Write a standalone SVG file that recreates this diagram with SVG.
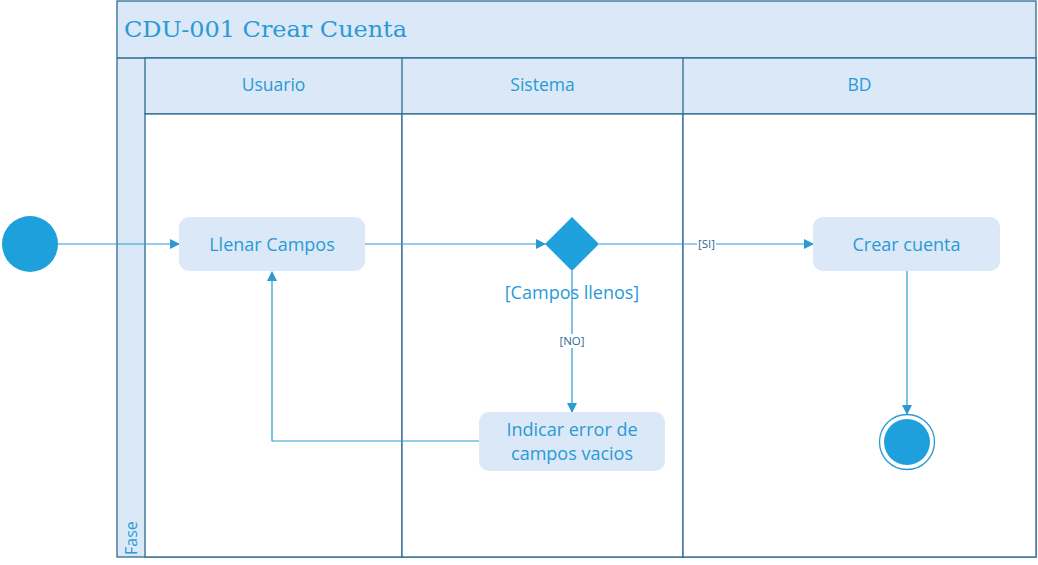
<svg xmlns="http://www.w3.org/2000/svg" width="1038" height="565" viewBox="0 0 1038 565">
<style>
.frame{fill:#dae8f7;stroke:#2e6b93;stroke-width:1.3}
.lane{fill:#ffffff;stroke:#2e6b93;stroke-width:1.3}
.act{fill:#dae8f7;stroke:none}
.t{font-family:"Open Sans","Noto Sans",sans-serif;fill:#2a9ad6}
.conn{fill:none;stroke:#2a9ad6;stroke-width:1.2}
.lbl{font-family:"Open Sans","Noto Sans",sans-serif;font-size:11.5px;fill:#2e6b93}
</style>
<defs>
<marker id="arr" markerWidth="10" markerHeight="10" refX="9" refY="5" orient="auto" markerUnits="userSpaceOnUse">
<path d="M0,0 L10,5 L0,10 z" fill="#2a9ad6"/>
</marker>
</defs>
<g id="pool">
<rect class="frame" x="117" y="1" width="919" height="556"/>
<line x1="117" y1="58" x2="1036" y2="58" stroke="#2e6b93" stroke-width="1.3"/>
<text x="124" y="37" font-family="'DejaVu Serif','Liberation Serif',serif" font-size="23" fill="#2a9ad6" textLength="283" lengthAdjust="spacingAndGlyphs">CDU-001 Crear Cuenta</text>
<rect class="frame" x="145" y="58" width="891" height="56"/>
<rect class="lane" x="145" y="114" width="257" height="443"/>
<rect class="lane" x="402" y="114" width="281" height="443"/>
<rect class="lane" x="683" y="114" width="353" height="443"/>
<line x1="402" y1="58" x2="402" y2="114" stroke="#2e6b93" stroke-width="1.3"/>
<line x1="683" y1="58" x2="683" y2="114" stroke="#2e6b93" stroke-width="1.3"/>
<text class="t" x="273.5" y="91" font-size="17.5" text-anchor="middle">Usuario</text>
<text class="t" x="542.5" y="91" font-size="17.5" text-anchor="middle">Sistema</text>
<text class="t" x="859.5" y="91" font-size="17.5" text-anchor="middle">BD</text>
<text class="t" font-size="16" transform="translate(137,555) rotate(-90)">Fase</text>
</g>
<g id="connectors">
<line class="conn" x1="58" y1="244" x2="179" y2="244" marker-end="url(#arr)"/>
<line class="conn" x1="365" y1="244" x2="545" y2="244" marker-end="url(#arr)"/>
<line class="conn" x1="599" y1="244" x2="813" y2="244" marker-end="url(#arr)"/>
<rect x="697" y="237" width="19" height="14" fill="#ffffff"/>
<text class="lbl" x="706.5" y="248" text-anchor="middle">[SI]</text>
<line class="conn" x1="572" y1="271" x2="572" y2="412" marker-end="url(#arr)"/>
<rect x="556" y="334" width="32" height="14" fill="#ffffff"/>
<text class="lbl" x="572" y="345" text-anchor="middle">[NO]</text>
<polyline class="conn" points="479,441 272,441 272,272" marker-end="url(#arr)"/>
<line class="conn" x1="907" y1="271" x2="907" y2="414" marker-end="url(#arr)"/>
</g>
<g id="start">
<circle cx="30" cy="244" r="28" fill="#1ea0dc"/>
</g>
<g id="llenar">
<rect class="act" x="179" y="217" width="186" height="54" rx="10"/>
<text class="t" x="272" y="251" font-size="18" text-anchor="middle">Llenar Campos</text>
</g>
<g id="decision">
<polygon points="572,217 599,244 572,271 545,244" fill="#1ea0dc"/>
<text class="t" x="572" y="299" font-size="18" text-anchor="middle">[Campos llenos]</text>
</g>
<g id="crear">
<rect class="act" x="813" y="217" width="187" height="54" rx="10"/>
<text class="t" x="906.5" y="251" font-size="18" text-anchor="middle">Crear cuenta</text>
</g>
<g id="indicar">
<rect class="act" x="479" y="412" width="186" height="59" rx="10"/>
<text class="t" x="572" y="436" font-size="18" text-anchor="middle">Indicar error de</text>
<text class="t" x="572" y="460" font-size="18" text-anchor="middle">campos vacios</text>
</g>
<g id="end">
<circle cx="907" cy="442" r="27.5" fill="#ffffff" stroke="#2a9ad6" stroke-width="1.3"/>
<circle cx="907" cy="442" r="23" fill="#1ea0dc"/>
</g>
</svg>
